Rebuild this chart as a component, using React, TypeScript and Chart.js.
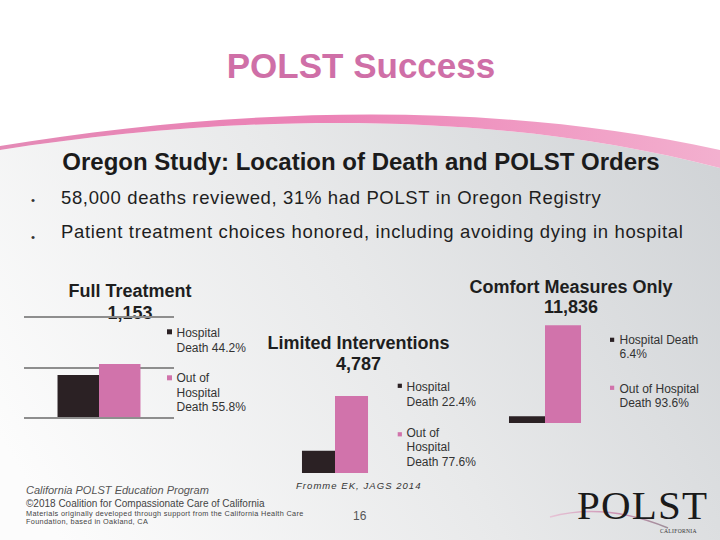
import React, { useEffect, useRef } from "react";
import { Chart, registerables } from "chart.js";

Chart.register(...registerables);

// ---------- data ----------
const SERIES_LABELS = ["Hospital Death", "Out of Hospital Death"];
const GROUP_TITLES = ["Full Treatment", "Limited Interventions", "Comfort Measures Only"];
const GROUP_TOTALS = ["1,153", "4,787", "11,836"];
const HOSPITAL_DEATHS = [510, 1072, 758];
const OUT_OF_HOSPITAL_DEATHS = [643, 3715, 11078];
const HOSPITAL_SHARE = ["44.2%", "22.4%", "6.4%"];
const OUT_OF_HOSPITAL_SHARE = ["55.8%", "77.6%", "93.6%"];
const AXIS_MAX = [1200, 4000, 12000];
const AXIS_STEP = [600, 4000, 12000];
const BULLETS = [
  "58,000 deaths reviewed, 31% had POLST in Oregon Registry",
  "Patient treatment choices honored, including avoiding dying in hospital",
];

// ---------- styles / layout ----------
const SANS = "'Liberation Sans', Arial, Helvetica, sans-serif";
const SERIF = "'Liberation Serif', 'Times New Roman', serif";
const DARK = "#2b2124";
const PINK = "#d173ab";

type Layout = {
  left: number;
  top: number;
  w: number;
  h: number;
  catPct: number;
  grid: boolean;
  titleX: number;
  titleY: number[];
  legendX: number;
  markerX: number;
  wrap: number;
  legendBase: number[];
  markerTop: number[];
  markerSize: number;
  lineGap: number;
};

const LAYOUTS: Layout[] = [
  {
    left: 20, top: 313, w: 158, h: 109, catPct: 0.553, grid: true,
    titleX: 130, titleY: [297, 319],
    legendX: 176.5, markerX: 167, wrap: 11,
    legendBase: [337, 382], markerTop: [329.3, 375.3], markerSize: 5, lineGap: 14.6,
  },
  {
    left: 266, top: 386, w: 138, h: 91, catPct: 0.508, grid: false,
    titleX: 358.5, titleY: [349, 370],
    legendX: 406.5, markerX: 397.7, wrap: 11,
    legendBase: [391, 436.7], markerTop: [383.7, 432.2], markerSize: 4.2, lineGap: 14.7,
  },
  {
    left: 476, top: 313, w: 138, h: 114, catPct: 0.554, grid: false,
    titleX: 571, titleY: [293, 313],
    legendX: 619.5, markerX: 610, wrap: 15,
    legendBase: [344, 393.3], markerTop: [337.7, 385.7], markerSize: 4.2, lineGap: 13.5,
  },
];

function wrapWords(text: string, max: number): string[] {
  const words = text.split(" ");
  const lines: string[] = [];
  let cur = "";
  for (const w of words) {
    const next = cur ? cur + " " + w : w;
    if (next.length > max && cur) {
      lines.push(cur);
      cur = w;
    } else {
      cur = next;
    }
  }
  if (cur) lines.push(cur);
  return lines;
}

function BarPanel({ index }: { index: number }) {
  const ref = useRef<HTMLCanvasElement>(null);
  const L = LAYOUTS[index];
  useEffect(() => {
    if (!ref.current) return;
    const chart = new Chart(ref.current, {
      type: "bar",
      data: {
        labels: [GROUP_TITLES[index]],
        datasets: [
          {
            label: SERIES_LABELS[0],
            data: [HOSPITAL_DEATHS[index]],
            backgroundColor: DARK,
            borderWidth: 0,
            barPercentage: 1,
            categoryPercentage: L.catPct,
          },
          {
            label: SERIES_LABELS[1],
            data: [OUT_OF_HOSPITAL_DEATHS[index]],
            backgroundColor: PINK,
            borderWidth: 0,
            barPercentage: 1,
            categoryPercentage: L.catPct,
          },
        ],
      },
      options: {
        animation: false,
        responsive: false,
        maintainAspectRatio: false,
        devicePixelRatio: 1,
        layout: { padding: 4 },
        plugins: {
          legend: { display: false },
          tooltip: { enabled: false },
          title: { display: false },
        },
        scales: {
          x: { display: false },
          y: {
            display: true,
            min: 0,
            max: AXIS_MAX[index],
            ticks: { display: false, stepSize: AXIS_STEP[index] },
            grid: {
              display: L.grid,
              color: "#8e8e8e",
              lineWidth: 2,
              drawTicks: false,
            },
            border: { display: false },
          },
        },
      },
    });
    return () => chart.destroy();
  }, []);
  return (
    <canvas
      ref={ref}
      width={L.w}
      height={L.h}
      style={{ position: "absolute", left: L.left, top: L.top, width: L.w, height: L.h }}
    />
  );
}

function PanelText({ index }: { index: number }) {
  const L = LAYOUTS[index];
  const legendItems = [
    { color: DARK, lines: wrapWords(`${SERIES_LABELS[0]} ${HOSPITAL_SHARE[index]}`, L.wrap) },
    { color: PINK, lines: wrapWords(`${SERIES_LABELS[1]} ${OUT_OF_HOSPITAL_SHARE[index]}`, L.wrap) },
  ];
  return (
    <g>
      <text x={L.titleX} y={L.titleY[0]} textAnchor="middle" fontFamily={SANS} fontWeight="bold" fontSize={18} fill="#1e1e1e">
        {GROUP_TITLES[index]}
      </text>
      <text x={L.titleX} y={L.titleY[1]} textAnchor="middle" fontFamily={SANS} fontWeight="bold" fontSize={18} fill="#1e1e1e">
        {GROUP_TOTALS[index]}
      </text>
      {legendItems.map((item, k) => (
        <g key={k}>
          <rect x={L.markerX} y={L.markerTop[k]} width={L.markerSize} height={L.markerSize} fill={item.color} />
          {item.lines.map((ln, j) => (
            <text key={j} x={L.legendX} y={L.legendBase[k] + j * L.lineGap} fontFamily={SANS} fontSize={12} fill="#333">
              {ln}
            </text>
          ))}
        </g>
      ))}
    </g>
  );
}

export default function App() {
  return (
    <div
      style={{
        position: "absolute",
        left: 0,
        top: 0,
        width: 720,
        height: 540,
        overflow: "hidden",
        background: "#ffffff",
      }}
    >
      <svg width={720} height={540} style={{ position: "absolute", left: 0, top: 0 }}>
        <defs>
          <linearGradient id="bgGrad" gradientUnits="userSpaceOnUse" x1={720} y1={150} x2={60} y2={540}>
            <stop offset="0" stopColor="#d0d3d6" />
            <stop offset="0.5" stopColor="#e8e9ea" />
            <stop offset="1" stopColor="#fcfcfc" />
          </linearGradient>
          <linearGradient id="bandGrad" gradientUnits="userSpaceOnUse" x1={0} y1={0} x2={720} y2={0}>
            <stop offset="0" stopColor="#e48ab6" />
            <stop offset="0.45" stopColor="#ec82b6" />
            <stop offset="1" stopColor="#f3b0cf" />
          </linearGradient>
          <linearGradient id="swooshGrad" gradientUnits="userSpaceOnUse" x1={550} y1={0} x2={670} y2={0}>
            <stop offset="0" stopColor="#e7c4d6" />
            <stop offset="0.6" stopColor="#c98fb0" />
            <stop offset="1" stopColor="#9b8f98" />
          </linearGradient>
        </defs>
        <path d="M0,150 C220,116 480,106 720,168 L720,540 L0,540 Z" fill="url(#bgGrad)" />
        <path d="M0,146 C220,110 480,97 720,150 L720,168 C480,106 220,116 0,150 Z" fill="url(#bandGrad)" />

        <text x={361} y={78} textAnchor="middle" fontFamily={SANS} fontWeight="bold" fontSize={35} fill="#cf6fa7">
          POLST Success
        </text>
        <text x={361} y={170} textAnchor="middle" fontFamily={SANS} fontWeight="bold" fontSize={24} fill="#1b1b1b">
          Oregon Study: Location of Death and POLST Orders
        </text>
        {BULLETS.map((b, i) => (
          <g key={i}>
            <text x={31} y={204 + i * 36.5} fontFamily={SANS} fontSize={11.5} fill="#333">
              •
            </text>
            <text x={61} y={204 + i * 34} fontFamily={SANS} fontSize={18.5} fill="#1e1e1e" style={{ letterSpacing: "0.64px" }}>
              {b}
            </text>
          </g>
        ))}

        {LAYOUTS.map((_, i) => (
          <PanelText key={i} index={i} />
        ))}

        <text x={26} y={493.5} fontFamily={SANS} fontStyle="italic" fontSize={11} fill="#555">
          California POLST Education Program
        </text>
        <text x={26} y={506.7} fontFamily={SANS} fontSize={10} fill="#444">
          ©2018 Coalition for Compassionate Care of California
        </text>
        <text x={26} y={515.5} fontFamily={SANS} fontSize={7.3} fill="#444" style={{ letterSpacing: "0.33px" }}>
          Materials originally developed through support from the California Health Care
        </text>
        <text x={26} y={524.3} fontFamily={SANS} fontSize={7.3} fill="#444" style={{ letterSpacing: "0.33px" }}>
          Foundation, based in Oakland, CA
        </text>
        <text x={296} y={489} fontFamily={SANS} fontStyle="italic" fontSize={9.5} fill="#333" style={{ letterSpacing: "1.05px" }}>
          Fromme EK, JAGS 2014
        </text>
        <text x={353} y={520} fontFamily={SANS} fontSize={12} fill="#555">
          16
        </text>

        <path d="M550,517 Q605,502 668,528" fill="none" stroke="url(#swooshGrad)" strokeWidth={1.6} />
        <text x={577} y={519} fontFamily={SERIF} fontSize={41} fill="#1a1a1a" style={{ letterSpacing: "1.2px" }}>
          POLST
        </text>
        <text x={660} y={533} fontFamily={SERIF} fontSize={5.6} fill="#333" style={{ letterSpacing: "0.3px" }}>
          CALIFORNIA
        </text>
      </svg>
      {LAYOUTS.map((_, i) => (
        <BarPanel key={i} index={i} />
      ))}
    </div>
  );
}
